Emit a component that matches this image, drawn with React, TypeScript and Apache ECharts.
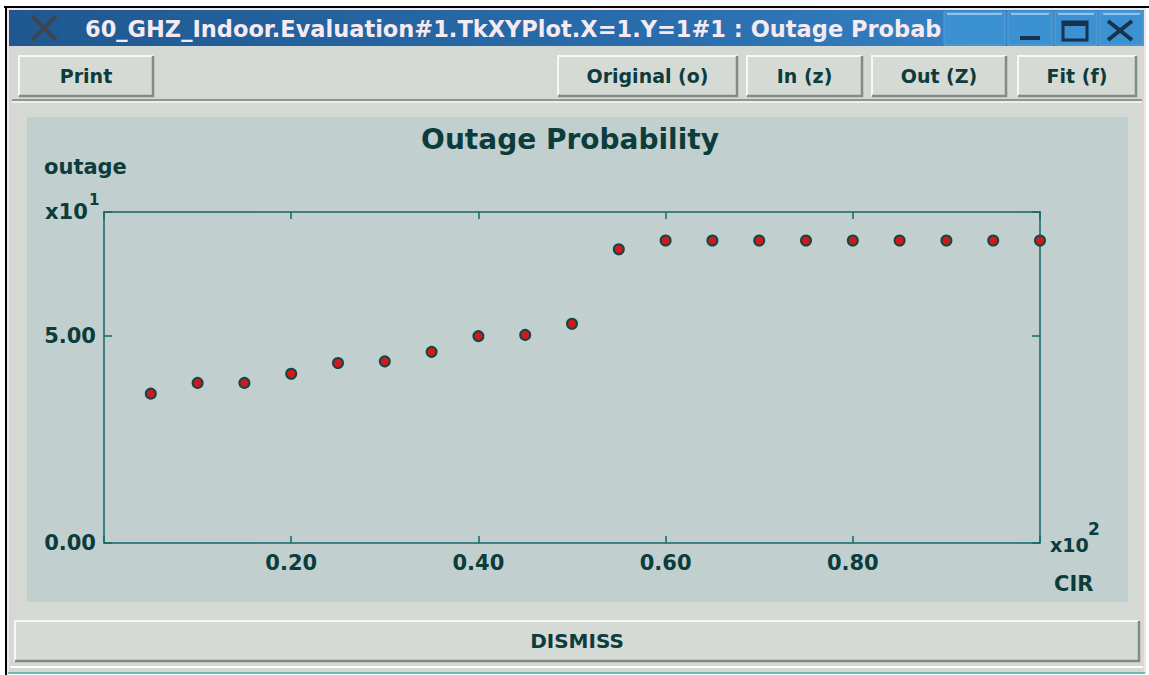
import React, { useEffect, useRef } from "react";
import * as echarts from "echarts";

// ---- data ----
const cir = [0.05, 0.1, 0.15, 0.2, 0.25, 0.3, 0.35, 0.4, 0.45, 0.5, 0.55, 0.6, 0.65, 0.7, 0.75, 0.8, 0.85, 0.9, 0.95, 1.0];
const outage = [3.61, 3.87, 3.87, 4.09, 4.35, 4.39, 4.62, 5.0, 5.03, 5.3, 7.1, 7.31, 7.31, 7.31, 7.31, 7.31, 7.31, 7.31, 7.31, 7.31];
const yTickValues = [0, 5];
const xTickValues = [0.2, 0.4, 0.6, 0.8];
const windowTitle = "60_GHZ_Indoor.Evaluation#1.TkXYPlot.X=1.Y=1#1 : Outage Probab";
const chartTitle = "Outage Probability";
const yAxisName = "outage";
const xAxisName = "CIR";
const toolbarLabels = ["Print", "Original (o)", "In (z)", "Out (Z)", "Fit (f)"];
const dismissLabel = "DISMISS";

const FONT = '"DejaVu Sans", "Liberation Sans", sans-serif';
const TXT = "#0c3c3c";
const AXIS = "#146868";
const GRAY = "#d5d9d3";
const PLOTBG = "#c1cfce";

function txt(x: number, y: number, text: string, size: number, opts: any = {}) {
  const align = opts.align || "left";
  const weight = opts.weight || "bold";
  return {
    type: "text",
    x,
    y,
    z: 5,
    style: {
      text,
      fill: opts.fill || TXT,
      font: `${weight} ${size}px ${FONT}`,
      align,
      textAlign: align,
      verticalAlign: "middle",
      textVerticalAlign: "middle",
    },
  };
}

function button(x: number, y: number, w: number, h: number, label: string, size: number) {
  return [
    { type: "rect", z: -1, shape: { x, y, width: w, height: h }, style: { fill: "#d6dad4" } },
    {
      type: "polyline",
      z: -1,
      shape: { points: [[x + 1, y + h - 1], [x + 1, y + 1], [x + w - 1, y + 1]] },
      style: { stroke: "#f6f8f4", lineWidth: 2, fill: null },
    },
    {
      type: "polyline",
      z: -1,
      shape: { points: [[x + w - 1, y + 1], [x + w - 1, y + h - 1], [x + 1, y + h - 1]] },
      style: { stroke: "#7f8b87", lineWidth: 2.5, fill: null },
    },
    txt(x + w / 2, y + h / 2, label, size, { align: "center" }),
  ];
}

function buildGraphics() {
  const els: any[] = [];
  // page & outer frame
  els.push({ type: "rect", z: -3, shape: { x: 0, y: 0, width: 1149, height: 675 }, style: { fill: "#ffffff" } });
  els.push({ type: "line", z: -2, shape: { x1: 4, y1: 7, x2: 1149, y2: 7 }, style: { stroke: "#000", lineWidth: 2 } });
  els.push({ type: "line", z: -2, shape: { x1: 6, y1: 7, x2: 6, y2: 675 }, style: { stroke: "#000", lineWidth: 2 } });
  // window body
  els.push({ type: "rect", z: -2, shape: { x: 8, y: 9, width: 1137, height: 664 }, style: { fill: GRAY, stroke: "#f2e6ea", lineWidth: 2 } });
  els.push({ type: "line", z: -2, shape: { x1: 8, y1: 673, x2: 1145, y2: 673 }, style: { stroke: "#6fb5b8", lineWidth: 2 } });
  els.push({ type: "line", z: -2, shape: { x1: 10, y1: 667, x2: 1143, y2: 667 }, style: { stroke: "#ffffff", lineWidth: 2 } });
  // title bar
  els.push({
    type: "rect",
    z: -1,
    shape: { x: 9, y: 10, width: 1135, height: 36 },
    style: {
      fill: new echarts.graphic.LinearGradient(0, 0, 1, 0, [
        { offset: 0, color: "#1f5890" },
        { offset: 0.6, color: "#2a6eae" },
        { offset: 1, color: "#3a8ed0" },
      ]),
    },
  });
  // window control buttons
  const wb = [
    [944, 1005],
    [1008, 1052],
    [1055, 1097],
    [1100, 1143],
  ];
  wb.forEach(([a, b]) => {
    els.push({ type: "rect", z: -1, shape: { x: a, y: 12, width: b - a, height: 33 }, style: { fill: "#3b91d2", stroke: "#5c9fd4", lineWidth: 1 } });
    els.push({ type: "line", z: -1, shape: { x1: a + 3, y1: 14, x2: b - 3, y2: 14 }, style: { stroke: "#8cc4ec", lineWidth: 2 } });
  });
  els.push({ type: "line", z: 1, shape: { x1: 1020, y1: 38, x2: 1040, y2: 38 }, style: { stroke: "#17324d", lineWidth: 4 } });
  els.push({ type: "rect", z: 1, shape: { x: 1063, y: 22, width: 24, height: 18 }, style: { fill: null, stroke: "#17324d", lineWidth: 3 } });
  els.push({ type: "line", z: 1, shape: { x1: 1063, y1: 24, x2: 1087, y2: 24 }, style: { stroke: "#17324d", lineWidth: 4 } });
  els.push({ type: "line", z: 1, shape: { x1: 1108, y1: 21, x2: 1132, y2: 40 }, style: { stroke: "#17324d", lineWidth: 4 } });
  els.push({ type: "line", z: 1, shape: { x1: 1132, y1: 21, x2: 1108, y2: 40 }, style: { stroke: "#17324d", lineWidth: 4 } });
  // app icon
  els.push({ type: "line", z: 1, shape: { x1: 32, y1: 16, x2: 56, y2: 40 }, style: { stroke: "#3d4650", lineWidth: 4 } });
  els.push({ type: "line", z: 1, shape: { x1: 56, y1: 16, x2: 32, y2: 40 }, style: { stroke: "#3d4650", lineWidth: 4 } });
  els.push(txt(85, 29, windowTitle, 22.5, { fill: "#f6eaf2", weight: "bold" }));
  // toolbar
  const tb = [
    [18, 136],
    [557, 181],
    [746, 117],
    [871, 136],
    [1017, 120],
  ];
  toolbarLabels.forEach((l, i) => {
    els.push(...button(tb[i][0], 55, tb[i][1], 42, l, 19));
  });
  els.push({ type: "line", z: -1, shape: { x1: 12, y1: 100, x2: 1142, y2: 100 }, style: { stroke: "#8c9692", lineWidth: 2 } });
  els.push({ type: "line", z: -1, shape: { x1: 12, y1: 102, x2: 1142, y2: 102 }, style: { stroke: "#f4f6f2", lineWidth: 1.5 } });
  // plot frame
  els.push({ type: "rect", z: -1, shape: { x: 27, y: 117, width: 1101, height: 485 }, style: { fill: PLOTBG } });
  // dismiss button
  els.push(...button(14, 620, 1126, 42, dismissLabel, 20));
  // chart texts
  els.push(txt(570, 139, chartTitle, 28, { align: "center" }));
  els.push(txt(44, 167, yAxisName, 21));
  els.push(txt(45, 212, "x10", 21));
  els.push(txt(89, 200, "1", 15));
  els.push(txt(1050, 545, "x10", 19));
  els.push(txt(1088, 529, "2", 17));
  els.push(txt(1054, 584, xAxisName, 21));
  return els;
}

export default function App() {
  const ref = useRef<HTMLDivElement>(null);
  useEffect(() => {
    if (!ref.current) return;
    const chart = echarts.init(ref.current, undefined, { renderer: "svg" });
    const axisLine = { show: true, onZero: false, lineStyle: { color: AXIS, width: 1.5 } };
    const tick = { show: true, inside: true, length: 7, lineStyle: { color: AXIS, width: 1.5 } };
    const label = (vals: number[]) => ({
      show: true,
      margin: 9,
      color: TXT,
      fontFamily: FONT,
      fontWeight: "bold",
      fontSize: 21,
      showMinLabel: true,
      showMaxLabel: true,
      formatter: (v: number) => (vals.some((t) => Math.abs(t - v) < 1e-9) ? v.toFixed(2) : ""),
    });
    chart.setOption({
      animation: false,
      backgroundColor: "#ffffff",
      graphic: { elements: buildGraphics() },
      grid: { left: 104, top: 212, right: 109, bottom: 132, show: false },
      xAxis: [
        {
          type: "value",
          position: "bottom",
          min: 0,
          max: 1,
          interval: 0.2,
          axisLine,
          axisTick: tick,
          axisLabel: label(xTickValues),
          splitLine: { show: false },
        },
        {
          type: "value",
          position: "top",
          min: 0,
          max: 1,
          interval: 0.2,
          axisLine,
          axisTick: tick,
          axisLabel: { show: false },
          splitLine: { show: false },
        },
      ],
      yAxis: [
        {
          type: "value",
          position: "left",
          min: 0,
          max: 8,
          interval: 5,
          axisLine,
          axisTick: { ...tick, length: 8 },
          axisLabel: { ...label(yTickValues), margin: 8 },
          splitLine: { show: false },
        },
        {
          type: "value",
          position: "right",
          min: 0,
          max: 8,
          interval: 5,
          axisLine,
          axisTick: { ...tick, length: 8 },
          axisLabel: { show: false },
          splitLine: { show: false },
        },
      ],
      series: [
        {
          type: "scatter",
          xAxisIndex: 0,
          yAxisIndex: 0,
          clip: false,
          symbol: "circle",
          symbolSize: 10,
          itemStyle: { color: "#d41818", borderColor: "#0f4848", borderWidth: 2, opacity: 1 },
          data: cir.map((c, i) => [c, outage[i]]),
          z: 3,
        },
      ],
    });
    return () => chart.dispose();
  }, []);
  return <div ref={ref} style={{ position: "fixed", left: 0, top: 0, width: 1149, height: 675 }} />;
}
